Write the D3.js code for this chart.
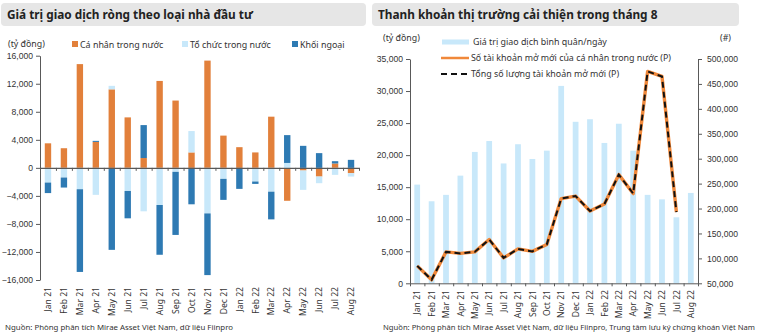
<!DOCTYPE html>
<html>
<head>
<meta charset="utf-8">
<script src="https://cdn.jsdelivr.net/npm/d3@7"></script>
<style>
  body { margin: 0; background: #fff; }
  svg { font-family: "Noto Sans", "Open Sans", sans-serif; }
  .axis path, .axis line { stroke: #595959; }
  .axis text { fill: #333; font-size: 8.6px; }
</style>
</head>
<body>
<svg id="chart" width="765" height="336"></svg>
<script>
const months = ["Jan 21","Feb 21","Mar 21","Apr 21","May 21","Jun 21","Jul 21","Aug 21","Sep 21","Oct 21",
                "Nov 21","Dec 21","Jan 22","Feb 22","Mar 22","Apr 22","May 22","Jun 22","Jul 22","Aug 22"];

// net trading value by investor type (bn VND)
const individual    = [3500, 2800, 14800, 3700, 11200, 7200, 1400, 12400, 9600, 2200, 15300, 4600, 2950, 2200, 7300, -4700, -380, -1240, 620, -760];
const institutional = [-2100, -1380, -3050, -3850, 500, -3300, -6200, -5300, -570, 3050, -6500, -1570, 0, -1950, -3400, 700, -2760, -950, -1000, -480];
const foreign       = [-1500, -1430, -11800, 150, -11700, -3900, 4700, -7100, -9000, -5200, -8800, -3000, -3000, -340, -3950, 3970, 3140, 2100, 330, 1140];

// liquidity (bn VND / day) and new accounts
const avgValue   = [15400, 12800, 13800, 16800, 20500, 22200, 18700, 21700, 19400, 20700,
                    30800, 25200, 25600, 21900, 24900, 20700, 13800, 13100, 10300, 14100];
const newIndAcc  = [85000, 57000, 113000, 110000, 113000, 138000, 101000, 119000, 114000, 128000,
                    220000, 225000, 195000, 209000, 268000, 230000, 475000, 465000, 193000, null];
const newTotAcc  = [85000, 57000, 113000, 110000, 113000, 138000, 101000, 119000, 114000, 128000,
                    220000, 225000, 195000, 209000, 268000, 230000, 475000, 465000, 193000, null];

const leftTicks  = [-16000, -12000, -8000, -4000, 0, 4000, 8000, 12000, 16000];
const rightTicksL = [0, 5000, 10000, 15000, 20000, 25000, 30000, 35000];
const rightTicksR = [50000, 100000, 150000, 200000, 250000, 300000, 350000, 400000, 450000, 500000];

const cOrange = "#E2803B", cLight = "#C8E8FA", cDark = "#2E7AB3";
const fmt = d3.format(",");
const svg = d3.select("#chart");

// title bars
function titleBar(x, w, text) {
  svg.append("rect").attr("x", x).attr("y", 3).attr("width", w).attr("height", 23)
    .attr("rx", 4).attr("fill", "#e6e6e6");
  svg.append("text").attr("x", x + 6).attr("y", 19).attr("font-size", 11.8)
    .attr("font-weight", "bold").attr("fill", "#222").text(text);
}
titleBar(1, 365, "Giá trị giao dịch ròng theo loại nhà đầu tư");
titleBar(372, 367, "Thanh khoản thị trường cải thiện trong tháng 8");

// ---------- left chart ----------
const x1 = d3.scaleBand().domain(months).range([40, 359]).paddingInner(0.6).paddingOuter(0.3);
const y1 = d3.scaleLinear().domain([-16000, 16000]).range([280, 55.7]);

const rows = months.map((m, i) => ({ m, ind: individual[i], inst: institutional[i], frn: foreign[i] }));
const stack = d3.stack().keys(["ind", "inst", "frn"]).offset(d3.stackOffsetDiverging)(rows);
const colors = { ind: cOrange, inst: cLight, frn: cDark };

svg.append("g").selectAll("g").data(stack).join("g")
  .attr("fill", d => colors[d.key])
  .selectAll("rect").data(d => d).join("rect")
  .attr("x", d => x1(d.data.m))
  .attr("width", x1.bandwidth())
  .attr("y", d => y1(Math.max(d[0], d[1])))
  .attr("height", d => Math.abs(y1(d[0]) - y1(d[1])));

svg.append("g").attr("class", "axis").attr("transform", "translate(40,0)")
  .call(d3.axisLeft(y1).tickValues(leftTicks).tickFormat(fmt).tickSize(4).tickSizeOuter(0))
  .call(g => g.selectAll("text").attr("x", -7));

// zero line with category ticks
const xb1 = d3.scaleLinear().domain([0, months.length]).range([40, 359]);
svg.append("g").attr("class", "axis").attr("transform", `translate(0,${y1(0)})`)
  .call(d3.axisBottom(xb1).tickValues(d3.range(months.length + 1)).tickFormat("").tickSize(3).tickSizeOuter(0))
  .call(g => g.select("path").attr("stroke", "#222").attr("stroke-width", 1.3));

svg.append("g").selectAll("text").data(months).join("text")
  .attr("transform", d => `translate(${x1(d) + x1.bandwidth() / 2 + 3.2},287) rotate(-90)`)
  .attr("text-anchor", "end").attr("font-size", 8.6).attr("fill", "#333").text(d => d);

svg.append("text").attr("x", 8).attr("y", 47).attr("font-size", 8.8).attr("fill", "#333").text("(tỷ đồng)");

const leg1 = [["Cá nhân trong nước", cOrange, 72], ["Tổ chức trong nước", cLight, 182], ["Khối ngoại", cDark, 292]];
leg1.forEach(([t, c, lx]) => {
  svg.append("rect").attr("x", lx).attr("y", 41).attr("width", 6).attr("height", 6).attr("fill", c);
  svg.append("text").attr("x", lx + 8).attr("y", 47.5).attr("font-size", 8.9).attr("fill", "#333").text(t);
});

svg.append("text").attr("x", 5).attr("y", 330).attr("font-size", 7.8).attr("fill", "#333")
  .attr("textLength", 228).attr("lengthAdjust", "spacingAndGlyphs")
  .text("Nguồn: Phòng phân tích Mirae Asset Việt Nam, dữ liệu Fiinpro");

// ---------- right chart ----------
const x2 = d3.scaleBand().domain(months).range([410, 698]).paddingInner(0.6).paddingOuter(0.3);
const y2 = d3.scaleLinear().domain([0, 35000]).range([283.3, 59]);
const y2r = d3.scaleLinear().domain([50000, 500000]).range([283.3, 59]);

svg.append("g").selectAll("rect").data(avgValue).join("rect")
  .attr("x", (d, i) => x2(months[i])).attr("width", x2.bandwidth())
  .attr("y", d => y2(d)).attr("height", d => y2(0) - y2(d)).attr("fill", cLight);

const line = d3.line().defined(d => d != null)
  .x((d, i) => x2(months[i]) + x2.bandwidth() / 2).y(d => y2r(d));
svg.append("path").datum(newIndAcc).attr("d", line).attr("fill", "none")
  .attr("stroke", "#F0883A").attr("stroke-width", 3.4).attr("stroke-linejoin", "round");
svg.append("path").datum(newTotAcc).attr("d", line).attr("fill", "none")
  .attr("stroke", "#111").attr("stroke-width", 2).attr("stroke-dasharray", "6,4");

svg.append("g").attr("class", "axis").attr("transform", "translate(410,0)")
  .call(d3.axisLeft(y2).tickValues(rightTicksL).tickFormat(fmt).tickSize(4).tickSizeOuter(0))
  .call(g => g.selectAll("text").attr("x", -7));
svg.append("g").attr("class", "axis").attr("transform", "translate(698,0)")
  .call(d3.axisRight(y2r).tickValues(rightTicksR).tickFormat(fmt).tickSize(4).tickSizeOuter(0))
  .call(g => g.selectAll("text").attr("x", 9));

const xb2 = d3.scaleLinear().domain([0, months.length]).range([410, 698]);
svg.append("g").attr("class", "axis").attr("transform", `translate(0,${y2(0)})`)
  .call(d3.axisBottom(xb2).tickValues(d3.range(months.length + 1)).tickFormat("").tickSize(3).tickSizeOuter(0));

svg.append("g").selectAll("text").data(months).join("text")
  .attr("transform", d => `translate(${x2(d) + x2.bandwidth() / 2 + 3.2},290) rotate(-90)`)
  .attr("text-anchor", "end").attr("font-size", 8.6).attr("fill", "#333").text(d => d);

svg.append("text").attr("x", 383).attr("y", 41).attr("font-size", 8.8).attr("fill", "#333").text("(tỷ đồng)");
svg.append("text").attr("x", 720).attr("y", 41).attr("font-size", 8.8).attr("fill", "#333").text("(#)");

svg.append("rect").attr("x", 442).attr("y", 39.5).attr("width", 27).attr("height", 5).attr("fill", cLight);
svg.append("text").attr("x", 473).attr("y", 45).attr("font-size", 8.9).attr("fill", "#333").text("Giá trị giao dịch bình quân/ngày");
svg.append("line").attr("x1", 441).attr("x2", 469).attr("y1", 58).attr("y2", 58)
  .attr("stroke", "#F0883A").attr("stroke-width", 2.5);
svg.append("text").attr("x", 471).attr("y", 61.3).attr("font-size", 8.9).attr("fill", "#333").text("Số tài khoản mở mới của cá nhân trong nước (P)");
svg.append("line").attr("x1", 441).attr("x2", 469).attr("y1", 74).attr("y2", 74)
  .attr("stroke", "#111").attr("stroke-width", 2).attr("stroke-dasharray", "6,4");
svg.append("text").attr("x", 471).attr("y", 77.3).attr("font-size", 8.9).attr("fill", "#333").text("Tổng số lượng tài khoản mở mới (P)");

svg.append("text").attr("x", 383).attr("y", 330).attr("font-size", 7.5).attr("fill", "#333")
  .attr("textLength", 372).attr("lengthAdjust", "spacingAndGlyphs")
  .text("Nguồn: Phòng phân tích Mirae Asset Việt Nam, dữ liệu Fiinpro, Trung tâm lưu ký chứng khoán Việt Nam");
</script>
</body>
</html>
